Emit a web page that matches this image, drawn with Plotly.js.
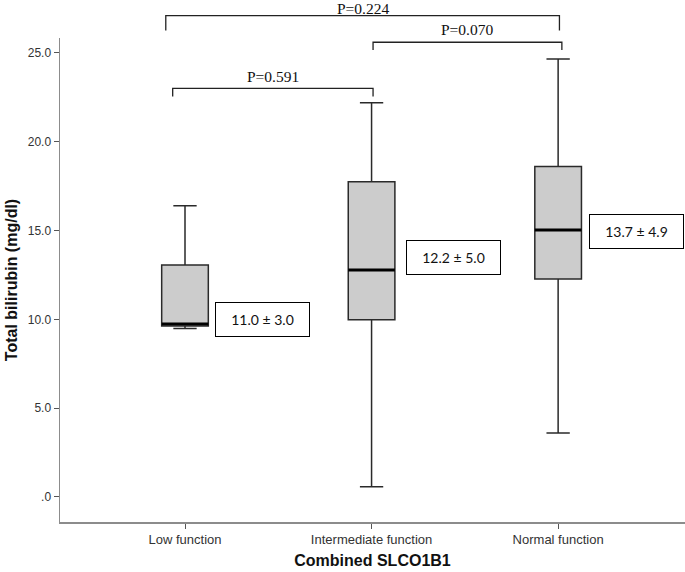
<!DOCTYPE html>
<html>
<head>
<meta charset="utf-8">
<script src="https://cdn.plot.ly/plotly-3.0.1.min.js"></script>
<style>body{margin:0;background:#fff;} #plot{width:685px;height:572px;}</style>
</head>
<body>
<div id="plot"></div>
<script>
// Total bilirubin by combined SLCO1B1 function
var groups = ["Low function", "Intermediate function", "Normal function"];
var lowerWhisker = [9.48, 0.58, 3.6];
var q1 = [9.63, 9.97, 12.27];
var median = [9.74, 12.78, 15.03];
var q3 = [13.06, 17.75, 18.6];
var upperWhisker = [16.4, 22.2, 24.66];
var meanSd = ["11.0 ± 3.0", "12.2 ± 5.0", "13.7 ± 4.9"];

var yTickVals = [0, 5, 10, 15, 20, 25];
var yTickText = [".0", "5.0", "10.0", "15.0", "20.0", "25.0"];

// pairwise comparisons: from group, to group, p value
var pairFrom = [0, 1, 0];
var pairTo = [1, 2, 2];
var pairP = ["P=0.591", "P=0.070", "P=0.224"];

var xRange = [-0.67, 2.68];
var yRange = [-1.41, 25.84];
var boxWidth = 0.25;

// where brackets and labels sit (layout only)
var bracketY = [23.0, 25.6, 27.1];
var bracketLeg = [0.46, 0.43, 0.84];
var bracketPad = [[-0.066, 0.008], [0.008, 0.02], [-0.103, 0.007]];
var textLift = [12, 13, 7];
var labelY = [10.0, 13.5, 14.95];
var labelGap = [0.163, 0.184, 0.163];

var idx = groups.map((g, i) => i);

function px(v) { return (v - xRange[0]) / (xRange[1] - xRange[0]); }
function py(v) { return (v - yRange[0]) / (yRange[1] - yRange[0]); }

var trace = {
  type: "box",
  x: idx,
  lowerfence: lowerWhisker,
  q1: q1,
  median: median,
  q3: q3,
  upperfence: upperWhisker,
  width: boxWidth,
  whiskerwidth: 0.5,
  fillcolor: "#cccccc",
  line: { color: "#2a2a2a", width: 1.5 },
  boxpoints: false,
  hoverinfo: "skip",
  showlegend: false
};

var shapes = [];
// thick median lines
idx.forEach(function (i) {
  shapes.push({
    type: "line", xref: "x", yref: "y",
    x0: i - boxWidth / 2, x1: i + boxWidth / 2,
    y0: median[i], y1: median[i],
    line: { color: "#000", width: 3 }
  });
});

var annotations = [];
// significance brackets
pairP.forEach(function (p, k) {
  var x0 = px(pairFrom[k] + bracketPad[k][0]);
  var x1 = px(pairTo[k] + bracketPad[k][1]);
  var yt = py(bracketY[k]);
  var yl = py(bracketY[k] - bracketLeg[k]);
  shapes.push({
    type: "path", xref: "paper", yref: "paper",
    path: "M" + x0 + "," + yl + " L" + x0 + "," + yt + " L" + x1 + "," + yt + " L" + x1 + "," + yl,
    line: { color: "#222", width: 1.3 }
  });
  annotations.push({
    xref: "paper", yref: "paper",
    x: (x0 + x1) / 2, y: yt, xanchor: "center", yanchor: "middle",
    text: p, showarrow: false, yshift: textLift[k], borderpad: 0,
    font: { family: "Liberation Serif, Times New Roman, serif", size: 15.5, color: "#111" }
  });
});

// mean ± SD labels
idx.forEach(function (i) {
  annotations.push({
    xref: "x", yref: "y",
    x: i + labelGap[i], y: labelY[i], xanchor: "left", yanchor: "middle",
    text: meanSd[i], showarrow: false,
    width: 91, height: 31, borderpad: 1,
    bordercolor: "#000", borderwidth: 1, bgcolor: "#fff",
    font: { family: "Lato, Open Sans, sans-serif", size: 14, color: "#111" }
  });
});

var layout = {
  width: 685,
  height: 572,
  margin: { l: 60, r: 0, t: 38, b: 50 },
  paper_bgcolor: "#fff",
  plot_bgcolor: "#fff",
  font: { family: "Liberation Sans, Arial, sans-serif", size: 12, color: "#333" },
  xaxis: {
    range: xRange,
    tickvals: idx,
    ticktext: groups,
    showgrid: false,
    zeroline: false,
    showline: true,
    linecolor: "#8c8c8c",
    linewidth: 1.5,
    ticks: "outside",
    ticklen: 5,
    tickcolor: "#555",
    tickfont: { size: 13, color: "#333" },
    title: {
      text: "<b>Combined SLCO1B1</b>",
      font: { size: 16, color: "#111" },
      standoff: 8
    }
  },
  yaxis: {
    range: yRange,
    tickvals: yTickVals,
    ticktext: yTickText,
    showgrid: false,
    zeroline: false,
    showline: true,
    linecolor: "#8c8c8c",
    linewidth: 1.5,
    ticks: "outside",
    ticklen: 5,
    tickcolor: "#555",
    tickfont: { size: 12, color: "#333" },
    title: {
      text: "<b>Total bilirubin (mg/dl)</b>",
      font: { size: 16, color: "#111" },
      standoff: 6
    }
  },
  shapes: shapes,
  annotations: annotations
};

Plotly.newPlot("plot", [trace], layout, { displayModeBar: false, staticPlot: true });
</script>
</body>
</html>
